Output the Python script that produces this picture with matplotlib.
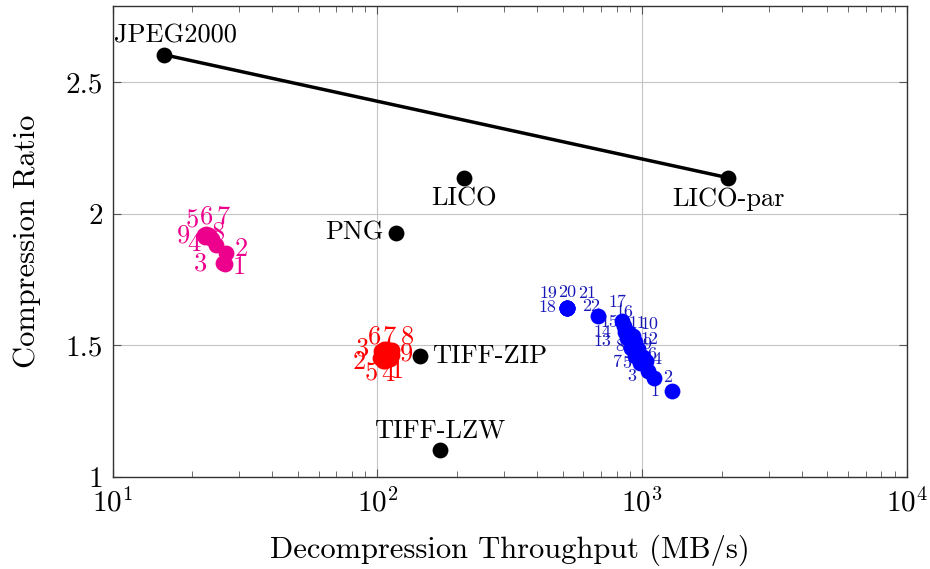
import matplotlib
matplotlib.use("Agg")
import matplotlib.pyplot as plt
from matplotlib.ticker import LogLocator, FixedLocator, FuncFormatter

plt.rcParams['font.family'] = 'serif'
plt.rcParams['font.serif'] = ['cmr10']
plt.rcParams['mathtext.fontset'] = 'cm'
plt.rcParams['axes.formatter.use_mathtext'] = True

# reference codecs (MB/s, ratio)
ref_names = ['JPEG2000', 'LICO', 'LICO-par', 'PNG', 'TIFF-ZIP', 'TIFF-LZW']
ref_speed = [15.6, 213, 2117, 117, 144.5, 172]
ref_ratio = [2.605, 2.137, 2.137, 1.928, 1.46, 1.103]

# pareto line
front_speed = [15.6, 2117]
front_ratio = [2.605, 2.137]

# magenta configurations 1..9
mag_speed = [26.5, 26.8, 26.1, 22.3, 22.5, 23.1, 23.7, 24.5, 22.1]
mag_ratio = [1.810, 1.852, 1.814, 1.913, 1.924, 1.920, 1.905, 1.882, 1.920]

# red configurations 1..9
red_speed = [111.8, 101.9, 102.8, 107.2, 104.5, 105.4, 109.1, 113.6, 113.6]
red_ratio = [1.449, 1.452, 1.479, 1.441, 1.441, 1.487, 1.487, 1.483, 1.464]

# blue configurations 1..22
blue_speed = [1290, 1103, 1047, 1029, 977, 1003, 943, 903, 960, 919, 895,
              943, 873, 858, 678, 850, 836, 522, 522, 522, 522, 522]
blue_ratio = [1.327, 1.376, 1.403, 1.441, 1.434, 1.456, 1.460, 1.491, 1.487,
              1.536, 1.548, 1.513, 1.529, 1.551, 1.612, 1.574, 1.593, 1.643,
              1.643, 1.643, 1.643, 1.643]

# label offsets in pixels (dx right, dy up)
ref_off = [(12, 19, 'center'), (0, -21, 'center'), (0, -21, 'center'),
           (-12, 0, 'right'), (12, 0, 'left'), (0, 19, 'center')]
mag_off = [(15, -3), (15, 4), (-23, -1), (-11, -7), (-14, 13), (-2, 18),
           (11, 22), (3, 12), (-20, -1)]
red_off = [(7, -12), (-20, -4), (-18, 2), (2, -13), (-11, -13), (-9, 12),
           (2, 12), (15, 13), (14, 1)]
blue_off = [(-17, 0), (14, 1), (-16, -5), (11, 2), (-13, -1), (9, 3), (-18, -6),
            (-11, 1), (9, 5), (17, 12), (8, 9), (14, 3), (-24, -4), (-22, 0),
            (12, -6), (1, 14), (-4, 19), (-20, 0), (-19, 14), (0, 15), (20, 14),
            (24, 1)]

MAG = '#EC008C'
RED = '#FF0000'
BLUE = '#0000FF'
BLUE_TXT = '#1818B8'

fig = plt.figure(figsize=(9.3, 5.69), dpi=100)
ax = fig.add_axes([112.7 / 930, 1 - 477 / 569, (907 - 112.7) / 930, (477 - 6) / 569])

ax.set_xscale('log')
ax.set_xlim(10, 1e4)
ax.set_ylim(1.0, 2.79)

ax.plot(front_speed, front_ratio, color='black', lw=2.5, zorder=3)
ax.scatter(ref_speed, ref_ratio, s=130, color='black', zorder=4, linewidths=0)
for name, x, y, (dx, dy, ha) in zip(ref_names, ref_speed, ref_ratio, ref_off):
    ax.annotate(name, (x, y), xytext=(dx, dy), textcoords='offset pixels',
                ha=ha, va='center', fontsize=19, zorder=5)


def cluster(xs, ys, offs, color, tcolor, fs):
    for i, (x, y, (dx, dy)) in enumerate(zip(xs, ys, offs)):
        ax.annotate(str(i + 1), (x, y), xytext=(dx, dy), textcoords='offset pixels',
                    ha='center', va='center', fontsize=fs, color=tcolor, zorder=3)
    ax.scatter(xs, ys, s=130, color=color, zorder=4, linewidths=0)


cluster(mag_speed, mag_ratio, mag_off, MAG, MAG, 19)
cluster(red_speed, red_ratio, red_off, RED, RED, 19)
cluster(blue_speed, blue_ratio, blue_off, BLUE, BLUE_TXT, 13)

ax.yaxis.set_major_locator(FixedLocator([1, 1.5, 2, 2.5]))
ax.yaxis.set_major_formatter(FuncFormatter(lambda v, p: f'{v:g}'))
ax.xaxis.set_major_locator(LogLocator(base=10, numticks=10))
ax.xaxis.set_minor_locator(LogLocator(base=10, subs=range(2, 10), numticks=20))

ax.grid(True, which='major', color='#c4c4c4', lw=0.8)
ax.set_axisbelow(True)
ax.tick_params(which='both', direction='in', top=True, right=True, labelsize=21,
               color='#555555')
ax.tick_params(which='major', length=6, width=0.8)
ax.tick_params(which='minor', length=4, width=0.6)
ax.tick_params(axis='x', pad=8)
ax.tick_params(axis='y', pad=7)
for s in ax.spines.values():
    s.set_linewidth(1.0)
    s.set_color('#333333')

ax.set_xlabel('Decompression Throughput (MB/s)', fontsize=22, labelpad=12)
ax.set_ylabel('Compression Ratio', fontsize=22, labelpad=18)

fig.savefig('out.png', dpi=100)
